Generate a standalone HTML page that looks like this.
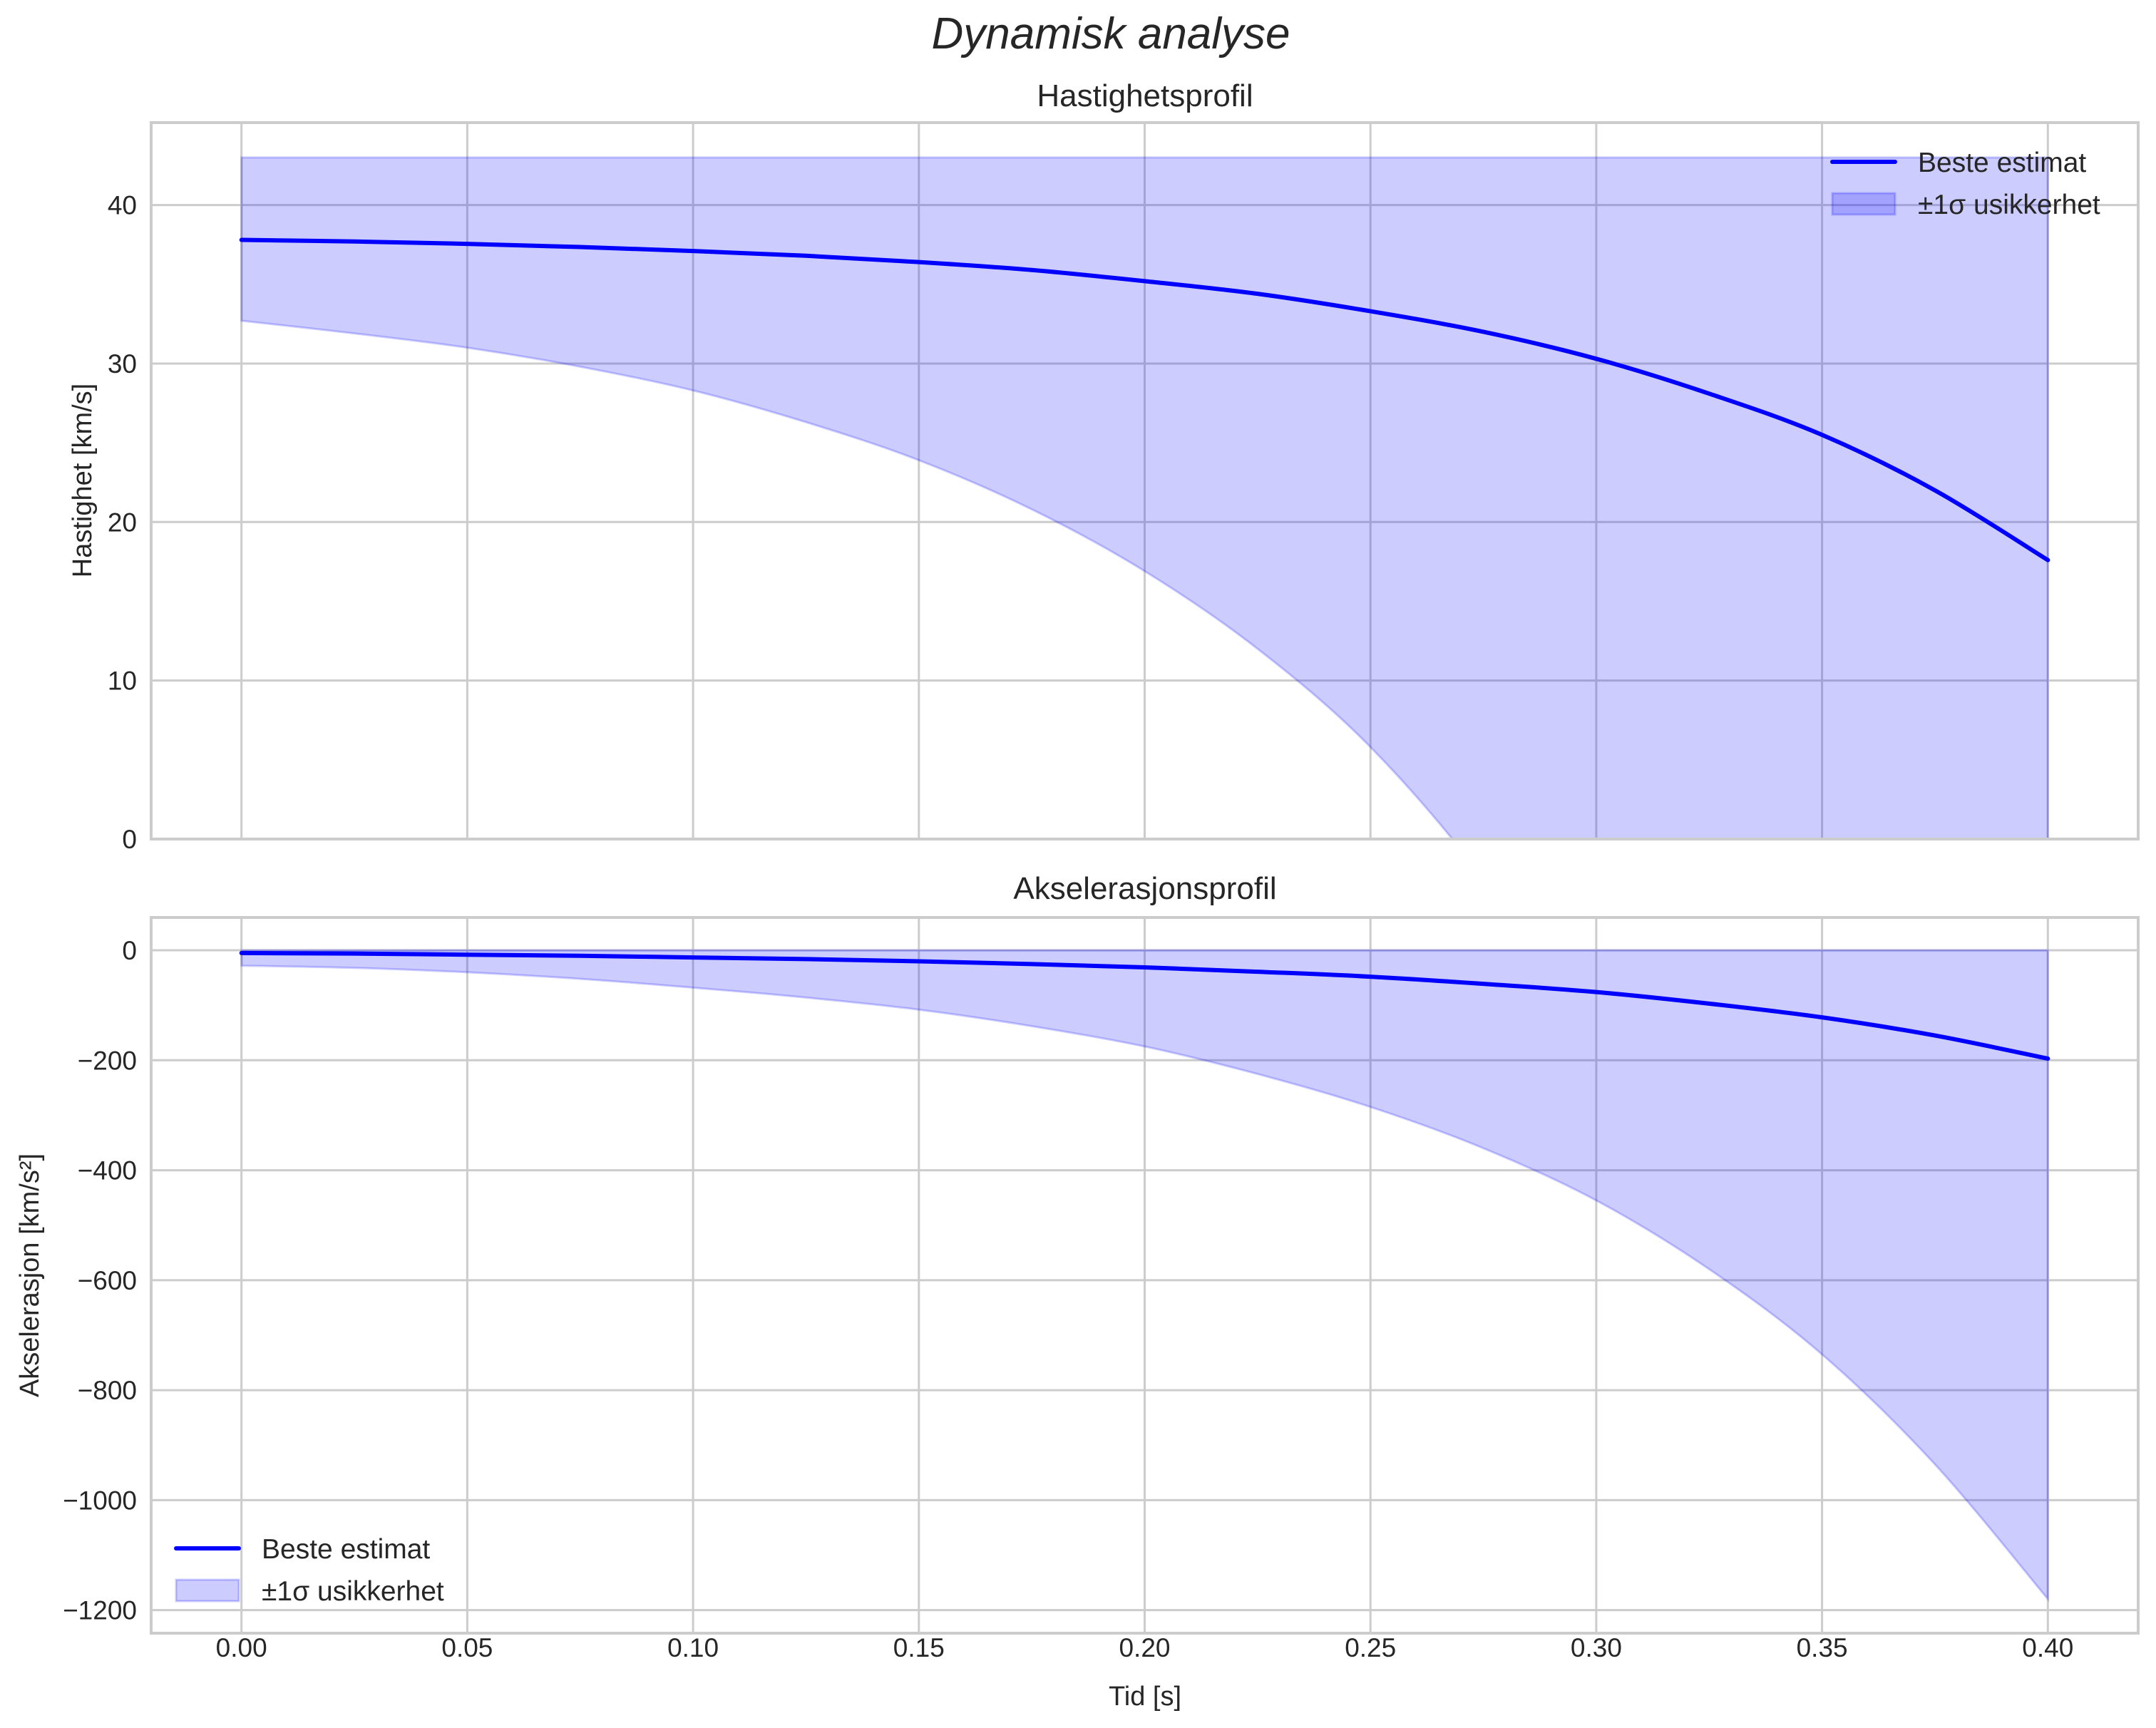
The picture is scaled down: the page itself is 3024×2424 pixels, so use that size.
<!DOCTYPE html>
<html><head><meta charset="utf-8"><style>
html,body{margin:0;padding:0;background:#fff;width:3024px;height:2424px;overflow:hidden;}
svg{display:block;font-family:"Liberation Sans","DejaVu Sans",sans-serif;}
</style></head><body>
<svg id="chart" width="3024" height="2424" viewBox="0 0 3024 2424" xmlns="http://www.w3.org/2000/svg">
<text x="1558" y="68" font-size="62" font-style="italic" fill="#262626" text-anchor="middle">Dynamisk analyse</text>
<text x="1606" y="149" font-size="44" fill="#262626" text-anchor="middle">Hastighetsprofil</text>
<text x="1606" y="1261" font-size="44" fill="#262626" text-anchor="middle">Akselerasjonsprofil</text>
<text x="1606" y="2392" font-size="38" fill="#262626" text-anchor="middle">Tid [s]</text>
<text transform="translate(128,674) rotate(-90)" font-size="38" fill="#262626" text-anchor="middle">Hastighet [km/s]</text>
<text transform="translate(54,1789) rotate(-90)" font-size="38" fill="#262626" text-anchor="middle">Akselerasjon [km/s²]</text>
<g id="top"></g>
<g id="bot"></g>
</svg>
<script>
const times = [0,0.025,0.05,0.075,0.1,0.125,0.15,0.175,0.2,0.225,0.25,0.275,0.3,0.325,0.35,0.375,0.4];
const velBest = [37.8,37.7,37.55,37.35,37.1,36.8,36.4,35.9,35.2,34.4,33.3,32.0,30.3,28.1,25.5,22.0,17.6];
const velLower = [32.7,31.9,31.0,29.8,28.3,26.3,23.9,20.8,16.9,12.0,5.8,-2.5,-13,-27,-45,-68,-98];
const velUpper = [43,43,43,43,43,43,43,43,43,43,43,43,43,43,43,43,43];
const accBest = [-5,-6,-8,-10,-13,-16,-20,-25,-31,-39,-48,-61,-76,-97,-122,-155,-197];
const accLower = [-28,-32,-40,-52,-68,-86,-108,-138,-175,-225,-285,-360,-455,-580,-735,-935,-1180];
const accUpper = [0,0,0,0,0,0,0,0,0,0,0,0,0,0,0,0,0];
const xTicks = [0,0.05,0.1,0.15,0.2,0.25,0.3,0.35,0.4];
const xTickLabels = ["0.00","0.05","0.10","0.15","0.20","0.25","0.30","0.35","0.40"];
const velTicks = [0,10,20,30,40];
const accTicks = [0,-200,-400,-600,-800,-1000,-1200];
const accTickLabels = ["0","\u2212200","\u2212400","\u2212600","\u2212800","\u22121000","\u22121200"];

const NS="http://www.w3.org/2000/svg";
const L=212, R=2999;
const X0=-0.02, X1=0.42;
const sx=v=>L+(v-X0)/(X1-X0)*(R-L);
function mk(tag,attrs,parent){const e=document.createElementNS(NS,tag);for(const k in attrs)e.setAttribute(k,attrs[k]);parent.appendChild(e);return e;}
function smooth(pts,start){
  let d=(start?'M':'L')+pts[0][0]+','+pts[0][1];
  for(let i=0;i<pts.length-1;i++){
    const p0=pts[Math.max(i-1,0)],p1=pts[i],p2=pts[i+1],p3=pts[Math.min(i+2,pts.length-1)];
    const c1x=p1[0]+(p2[0]-p0[0])/6,c1y=p1[1]+(p2[1]-p0[1])/6;
    const c2x=p2[0]-(p3[0]-p1[0])/6,c2y=p2[1]-(p3[1]-p1[1])/6;
    d+='C'+c1x+','+c1y+' '+c2x+','+c2y+' '+p2[0]+','+p2[1];
  }
  return d;
}

function panel(g,top,bot,y0,y1,ticks,tickLabels,best,lower,upper,legendPos,id){
  const sy=v=>bot-(v-y0)/(y1-y0)*(bot-top);
  const cid='clip'+id;
  const defs=mk('defs',{},g);
  const cp=mk('clipPath',{id:cid},defs);
  mk('rect',{x:L,y:top,width:R-L,height:bot-top},cp);
  xTicks.forEach((t,i)=>{
    const gl=mk('line',{x1:sx(t),x2:sx(t),y1:top,y2:bot,stroke:'#cccccc','stroke-width':3},g);
    
    
  });
  ticks.forEach((t,i)=>{
    const gl=mk('line',{x1:L,x2:R,y1:sy(t),y2:sy(t),stroke:'#cccccc','stroke-width':3},g);
    
    
    const tx=mk('text',{x:L-20,y:sy(t)+13,'font-size':37,fill:'#262626','text-anchor':'end'},g);
    tx.textContent=tickLabels[i];
    
    
  });
  const up=times.map((t,i)=>[sx(t),sy(upper[i])]);
  const lo=times.map((t,i)=>[sx(t),sy(lower[i])]).reverse();
  const d=smooth(up,true)+smooth(lo,false)+'Z';
  const band=mk('path',{d:d,fill:'rgba(0,0,255,0.2)',stroke:'rgba(0,0,255,0.2)','stroke-width':3,'clip-path':'url(#'+cid+')'},g);
  
  
  const bp=times.map((t,i)=>[sx(t),sy(best[i])]);
  const ln=mk('path',{d:smooth(bp,true),fill:'none',stroke:'#0000ff','stroke-width':6,'stroke-linejoin':'round','stroke-linecap':'round','clip-path':'url(#'+cid+')'},g);
  
  
  const fr=mk('rect',{x:L,y:top,width:R-L,height:bot-top,fill:'none',stroke:'#cccccc','stroke-width':4},g);
  
  
  const [lx,ly]=legendPos;
  const lg=mk('g',{},g);
  
  
  mk('line',{x1:lx,x2:lx+88,y1:ly,y2:ly,stroke:'#0000ff','stroke-width':6,'stroke-linecap':'round'},lg);
  const t1=mk('text',{x:lx+120,y:ly+14,'font-size':39,fill:'#262626'},lg);
  t1.textContent='Beste estimat';
  
  
  mk('rect',{x:lx,y:ly+44,width:88,height:30,fill:'rgba(0,0,255,0.2)',stroke:'rgba(0,0,255,0.2)','stroke-width':3},lg);
  const t2=mk('text',{x:lx+120,y:ly+73,'font-size':39,fill:'#262626'},lg);
  t2.textContent='±1σ usikkerhet';
  
  
}
const velLabels=velTicks.map(String);
panel(document.getElementById('top'),172,1177,0,45.2,velTicks,velLabels,velBest,velLower,velUpper,[2570,227],'v');
panel(document.getElementById('bot'),1287,2291,-1242,59.7,accTicks,accTickLabels,accBest,accLower,accUpper,[247,2172],'a');
const svg=document.getElementById('chart');
xTicks.forEach((t,i)=>{
  const tx=mk('text',{x:sx(t),y:2324,'font-size':37,fill:'#262626','text-anchor':'middle'},svg);
  tx.textContent=xTickLabels[i];
  
  
});
</script>
</body></html>
